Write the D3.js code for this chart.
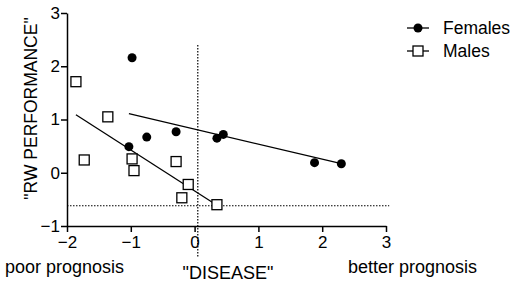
<!DOCTYPE html>
<html>
<head>
<meta charset="utf-8">
<style>
  body { margin: 0; background: #fff; }
  text { font-family: Arial, "Liberation Sans", sans-serif; fill: #000; }
</style>
</head>
<body>
<script src="https://d3js.org/d3.v7.min.js"></script>
<svg id="chart"></svg>
<script>
// 数据
const femalesX = [-0.98, -1.03, -0.75, -0.29, 0.35, 0.45, 1.88, 2.30];
const femalesY = [2.16, 0.49, 0.67, 0.77, 0.65, 0.72, 0.19, 0.17];
const malesX = [-1.86, -1.36, -1.73, -0.98, -0.95, -0.29, -0.10, -0.20, 0.35];
const malesY = [1.71, 1.05, 0.24, 0.26, 0.04, 0.21, -0.22, -0.47, -0.60];
// 回归线端点
const femalesFit = [[-1.03, 1.11], [2.30, 0.17]];
const malesFit = [[-1.86, 1.09], [0.35, -0.61]];
const refX = 0.05;
const refY = -0.62;
const xTicks = [-2, -1, 0, 1, 2, 3];
const yTicks = [-1, 0, 1, 2, 3];
const legendLabels = ['Females', 'Males'];

const width = 516, height = 287;
const svg = d3.select('#chart').attr('width', width).attr('height', height);

const x = d3.scaleLinear().domain([-2, 3]).range([67, 386]);
const y = d3.scaleLinear().domain([-1, 3]).range([226, 13]);

// 坐标轴
const xAxis = svg.append('g')
    .attr('transform', `translate(0,${y(-1)})`)
    .call(d3.axisBottom(x).tickValues(xTicks).tickSize(6).tickSizeOuter(0).tickFormat(d3.format('d')));
const yAxis = svg.append('g')
    .attr('transform', `translate(${x(-2)},0)`)
    .call(d3.axisLeft(y).tickValues(yTicks).tickSize(6).tickSizeOuter(0).tickFormat(d3.format('d')));

[xAxis, yAxis].forEach(a => {
    a.select('.domain').attr('stroke', '#000').attr('stroke-width', 1.5);
    a.selectAll('.tick line').attr('stroke', '#000').attr('stroke-width', 1.5);
    a.selectAll('.tick text').attr('font-size', 17).attr('fill', '#000')
        .style('font-family', 'Arial, "Liberation Sans", sans-serif');
});
xAxis.selectAll('.tick text').attr('dy', '0.95em').attr('y', 6);
yAxis.selectAll('.tick text').attr('x', -7);

// 参考虚线
svg.append('line')
    .attr('x1', x(refX)).attr('x2', x(refX))
    .attr('y1', y(2.4)).attr('y2', y(-1.6))
    .attr('stroke', '#000').attr('stroke-width', 1.2).attr('stroke-dasharray', '1.5,1.5');
svg.append('line')
    .attr('x1', x(-2)).attr('x2', x(3.05))
    .attr('y1', y(refY)).attr('y2', y(refY))
    .attr('stroke', '#000').attr('stroke-width', 1.2).attr('stroke-dasharray', '1.5,1.5');

// 回归线
const line = d3.line().x(d => x(d[0])).y(d => y(d[1]));
[femalesFit, malesFit].forEach(fit => {
    svg.append('path').attr('d', line(fit))
        .attr('fill', 'none').attr('stroke', '#000').attr('stroke-width', 1.3);
});

// 点
svg.append('g').selectAll('circle')
    .data(femalesX.map((d, i) => [d, femalesY[i]]))
    .join('circle')
    .attr('cx', d => x(d[0])).attr('cy', d => y(d[1]))
    .attr('r', 4.5).attr('fill', '#000');

const s = 10;
svg.append('g').selectAll('rect')
    .data(malesX.map((d, i) => [d, malesY[i]]))
    .join('rect')
    .attr('x', d => x(d[0]) - s / 2).attr('y', d => y(d[1]) - s / 2)
    .attr('width', s).attr('height', s)
    .attr('fill', '#fff').attr('stroke', '#000').attr('stroke-width', 1.3);

// 图例
const legend = svg.append('g').attr('transform', 'translate(407,28)');
legendLabels.forEach((name, i) => {
    const g = legend.append('g').attr('transform', `translate(0,${i * 23})`);
    g.append('line').attr('x1', 0).attr('x2', 22).attr('stroke', '#000').attr('stroke-width', 1.3);
    if (i === 0) {
        g.append('circle').attr('cx', 11).attr('r', 4.5).attr('fill', '#000');
    } else {
        g.append('rect').attr('x', 6).attr('y', -5).attr('width', 10).attr('height', 10)
            .attr('fill', '#fff').attr('stroke', '#000').attr('stroke-width', 1.3);
    }
    g.append('text').attr('x', 36).attr('dy', '0.35em').attr('font-size', 17.5).text(name);
});

// 轴标题
svg.append('text')
    .attr('transform', `translate(37,108.5) rotate(-90)`)
    .attr('text-anchor', 'middle').attr('font-size', 17.5)
    .text('"RW PERFORMANCE"');
svg.append('text').attr('x', 228).attr('y', 279).attr('text-anchor', 'middle')
    .attr('font-size', 18).text('"DISEASE"');
svg.append('text').attr('x', 5).attr('y', 273).attr('font-size', 18).text('poor prognosis');
svg.append('text').attr('x', 348).attr('y', 273).attr('font-size', 18).text('better prognosis');
</script>
</body>
</html>
